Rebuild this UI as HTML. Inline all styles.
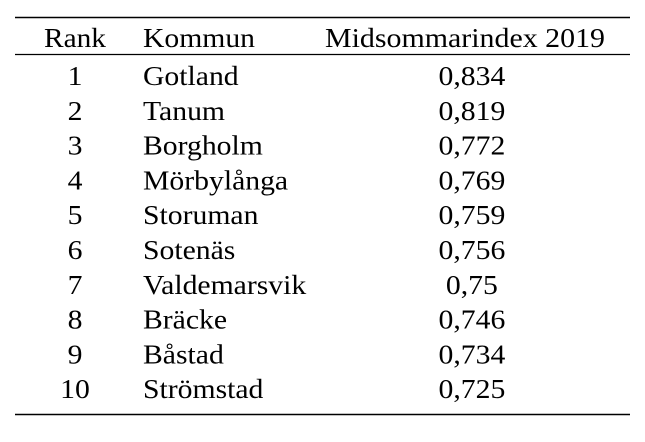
<!DOCTYPE html>
<html><head><style>body{margin:0;background:#fff}</style></head><body>
<svg width="645" height="437" xmlns="http://www.w3.org/2000/svg" style="font-family:'Liberation Serif',serif" font-size="27" fill="#000">
<rect width="645" height="437" fill="#fff"/>
<line x1="15" y1="17.5" x2="630" y2="17.5" stroke="#000" stroke-width="1.5"/>
<line x1="15" y1="54.5" x2="630" y2="54.5" stroke="#000" stroke-width="1.2"/>
<line x1="15" y1="414.5" x2="630" y2="414.5" stroke="#000" stroke-width="1.5"/>
<text x="75" y="47" text-anchor="middle" textLength="62" lengthAdjust="spacingAndGlyphs">Rank</text>
<text x="143" y="47" textLength="112" lengthAdjust="spacingAndGlyphs">Kommun</text>
<text x="465" y="47" text-anchor="middle" textLength="280" lengthAdjust="spacingAndGlyphs">Midsommarindex 2019</text>
<g transform="scale(1.1,1)">
<g text-anchor="middle">
<text x="68.2" y="85">1</text><text x="68.2" y="119.8">2</text><text x="68.2" y="154.6">3</text><text x="68.2" y="189.4">4</text><text x="68.2" y="224.2">5</text><text x="68.2" y="259">6</text><text x="68.2" y="293.8">7</text><text x="68.2" y="328.6">8</text><text x="68.2" y="363.4">9</text><text x="68.2" y="398.2">10</text>
<text x="429" y="85">0,834</text><text x="429" y="119.8">0,819</text><text x="429" y="154.6">0,772</text><text x="429" y="189.4">0,769</text><text x="429" y="224.2">0,759</text><text x="429" y="259">0,756</text><text x="429" y="293.8">0,75</text><text x="429" y="328.6">0,746</text><text x="429" y="363.4">0,734</text><text x="429" y="398.2">0,725</text>
</g>
<g>
<text x="130" y="85">Gotland</text><text x="130" y="119.8">Tanum</text><text x="130" y="154.6">Borgholm</text><text x="130" y="189.4">Mörbylånga</text><text x="130" y="224.2">Storuman</text><text x="130" y="259">Sotenäs</text><text x="130" y="293.8">Valdemarsvik</text><text x="130" y="328.6">Bräcke</text><text x="130" y="363.4">Båstad</text><text x="130" y="398.2">Strömstad</text>
</g>
</g>
</svg>
</body></html>
